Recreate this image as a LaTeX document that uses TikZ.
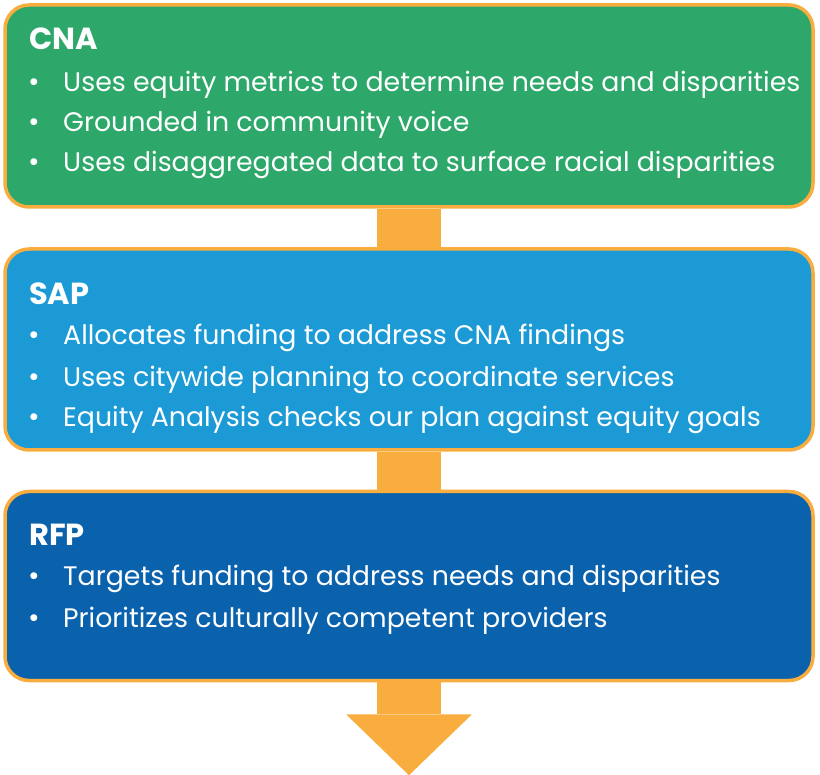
\documentclass[tikz,border=0pt]{standalone}
\usepackage{fontspec}
\setmainfont{Poppins}
\usetikzlibrary{calc}
\definecolor{cgreen}{HTML}{2DA86A}
\definecolor{cblue}{HTML}{1B9AD6}
\definecolor{cdark}{HTML}{0B62AC}
\definecolor{corange}{HTML}{F9AD3F}
\begin{document}
\begin{tikzpicture}[x=1pt,y=-1pt]
\tikzset{
  box/.style={draw=corange, line width=3.5pt, rounded corners=24pt, inner sep=0pt},
  conn/.style={draw=corange, line width=64pt},
  ttl/.style={anchor=base west, text=white, inner sep=0pt, font=\fontsize{30.5}{36}\selectfont\bfseries},
  itm/.style={anchor=base west, text=white, inner sep=0pt, font=\fontsize{26.8}{32}\selectfont},
  bul/.style={anchor=base, text=white, inner sep=0pt, font=\fontsize{28}{32}\selectfont},
}
\useasboundingbox (0,0) rectangle (820,775);
% boxes
\node[box, fill=cgreen, minimum width=808pt, minimum height=202pt] (cna) at (409,106) {};
\node[box, fill=cblue, minimum width=808pt, minimum height=201pt] (sap) at (409,349.5) {};
\node[box, fill=cdark, minimum width=808pt, minimum height=189pt] (rfp) at (409,586) {};
% connectors
\draw[conn] (cna.south) -- (sap.north);
\draw[conn] (sap.south) -- (rfp.north);
\draw[conn] (rfp.south) -- ++(0,32) coordinate (ah);
\fill[corange] ($(ah)+(-63,0)$) -- ($(ah)+(63,0)$) -- ($(ah)+(0,61)$) coordinate (tip) -- cycle;
% CNA
\node[ttl] (t1) at (29,50) {CNA};
\node[bul] (b11) at (34,92) {•};
\node[itm] (i11) at (63,92) {Uses equity metrics to determine needs and disparities};
\node[bul] (b12) at (34,132) {•};
\node[itm] (i12) at (63,132) {Grounded in community voice};
\node[bul] (b13) at (34,172) {•};
\node[itm] (i13) at (63,172) {Uses disaggregated data to surface racial disparities};
% SAP
\node[ttl] (t2) at (29,305) {SAP};
\node[bul] (b21) at (34,345) {•};
\node[itm] (i21) at (63,345) {Allocates funding to address CNA findings};
\node[bul] (b22) at (34,387) {•};
\node[itm] (i22) at (63,387) {Uses citywide planning to coordinate services};
\node[bul] (b23) at (34,427) {•};
\node[itm] (i23) at (63,427) {Equity Analysis checks our plan against equity goals};
% RFP
\node[ttl] (t3) at (29,546) {RFP};
\node[bul] (b31) at (34,586) {•};
\node[itm] (i31) at (63,586) {Targets funding to address needs and disparities};
\node[bul] (b32) at (34,627) {•};
\node[itm] (i32) at (63,627) {Prioritizes culturally competent providers};
\end{tikzpicture}
\end{document}
